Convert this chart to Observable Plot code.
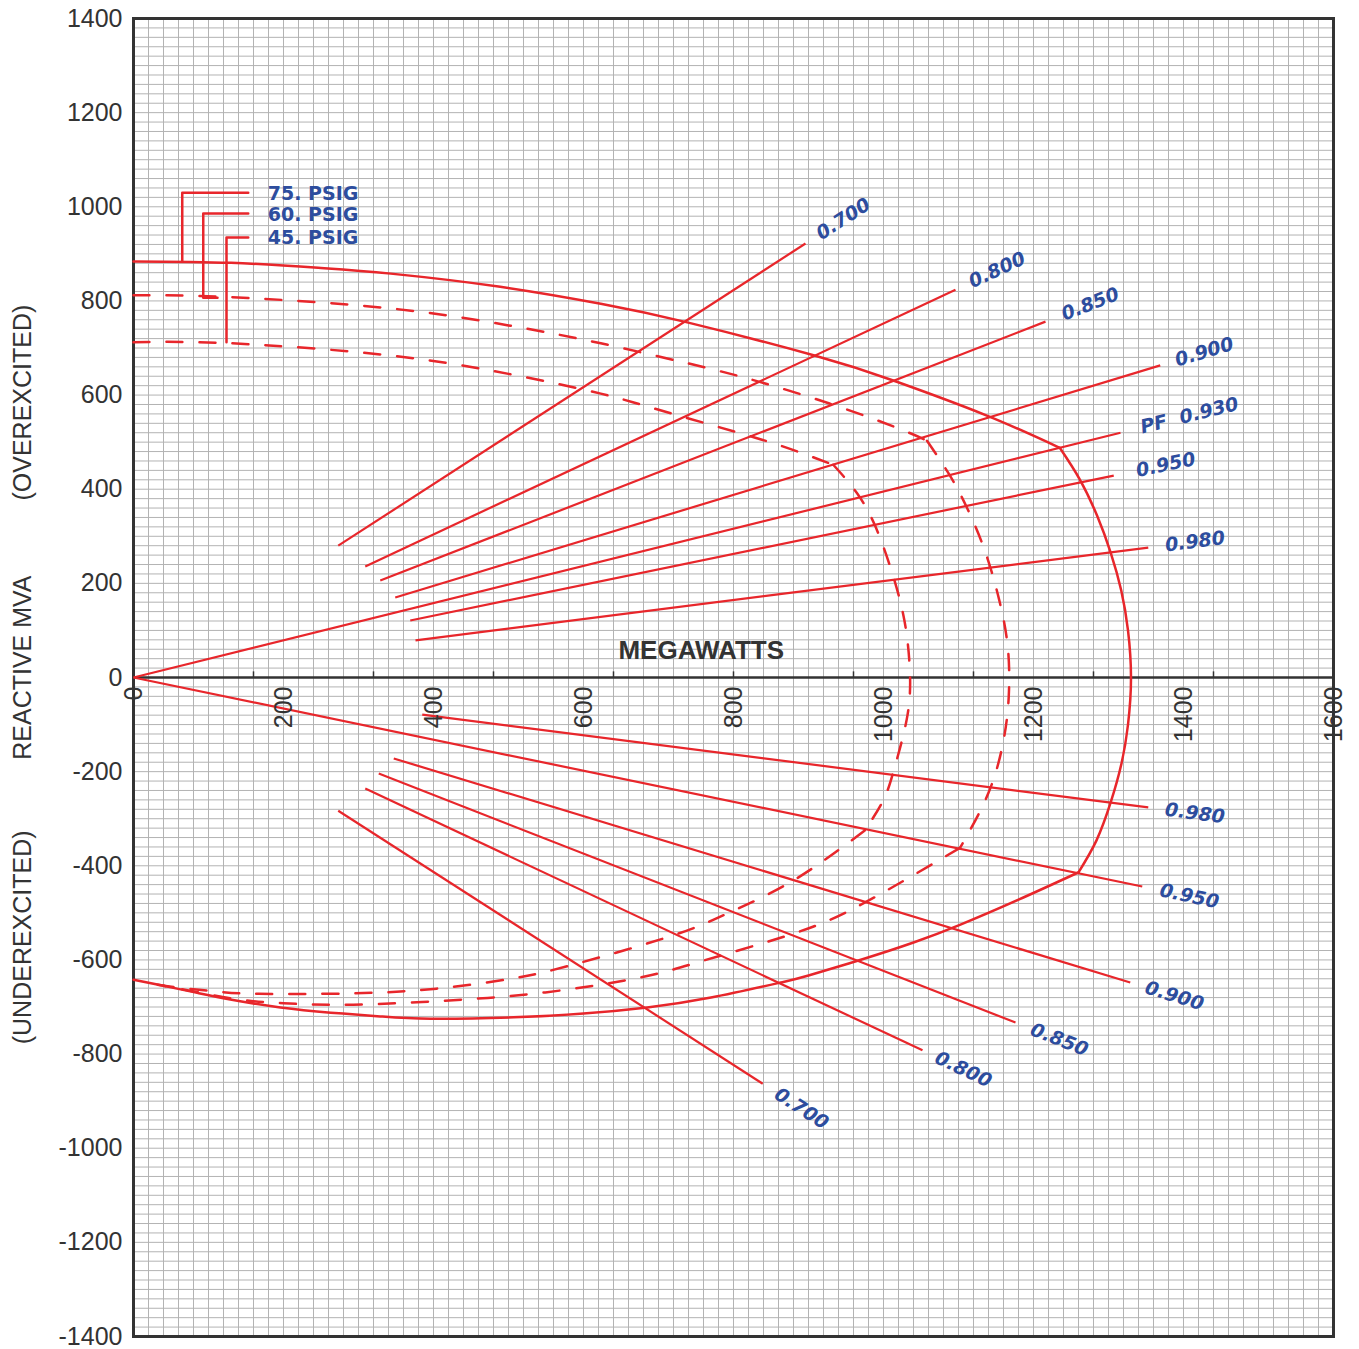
<!DOCTYPE html>
<html><head><meta charset="utf-8">
<script src="https://cdn.jsdelivr.net/npm/d3@7"></script>
<script src="https://cdn.jsdelivr.net/npm/@observablehq/plot@0.6"></script>
<style>html,body{margin:0;padding:0;background:#fff;} #chart svg{display:block}</style>
</head><body><div id="chart"></div>
<script>
// ---------- data ----------
const xTicks = [0, 200, 400, 600, 800, 1000, 1200, 1400, 1600];
const yTicks = [1400, 1200, 1000, 800, 600, 400, 200, 0, -200, -400, -600, -800, -1000, -1200, -1400];

// 75 PSIG capability curve (solid): [MW, MVAR]
const c75Upper = [[0,884],[130,881],[250,870],[343,858],[489,830],[623,794],[737,755],[908,684],[1013,631],[1137,557],[1235,488]];
const c75Arc   = [[1235,488],[1262,420],[1285,343],[1303,265],[1317,185],[1326,100],[1330,0],[1326,-100],[1317,-185],[1303,-265],[1284,-346],[1260,-414]];
const c75Lower = [[1260,-414],[1180,-472],[1101,-526],[1040,-563],[973,-598],[900,-633],[863,-648],[770,-680],[685,-701],[600,-714],[507,-722],[396,-725],[329,-720],[263,-712],[196,-701],[129,-684],[85,-670],[40,-655],[0,-642]];

// 60 PSIG (dashed, outer)
const c60Upper = [[0,812],[129,808],[343,784],[500,748],[623,710],[761,659],[837,627],[928,582],[1017,531],[1058,503]];
const c60Right = [[1058,503],[1087,433],[1110,365],[1135,270],[1155,160],[1166,60],[1167,-40],[1160,-134],[1140,-245],[1102,-362]];
const c60Lower = [[1102,-362],[973,-480],[880,-544],[761,-601],[676,-637],[549,-669],[421,-686],[293,-695],[200,-692],[140,-684],[90,-670],[40,-655]];

// 45 PSIG (dashed, inner)
const c45Upper = [[0,712],[130,710],[343,684],[500,645],[623,603],[717,561],[828,510],[889,478],[933,452]];
const c45Right = [[933,452],[965,391],[990,318],[1012,220],[1028,120],[1035,20],[1032,-80],[1015,-190],[1000,-260],[975,-325]];
const c45Lower = [[975,-325],[880,-431],[795,-499],[719,-548],[591,-608],[507,-639],[404,-661],[293,-671],[167,-672],[110,-667],[60,-659],[30,-652]];

// legend brackets
const bracket75 = [[65,884],[65,1030],[153,1030]];
const bracket60 = [[112,807],[93,807],[93,986],[153,986]];
const bracket45 = [[124,712],[124,935],[153,935]];
const legendNames = ["75. PSIG", "60. PSIG", "45. PSIG"];
const legendY = [1028, 982, 934];
const legendX = 179;

// power-factor lines: label, start [MW,MVAR], end [MW,MVAR]
const pfLabels = ["0.700","0.800","0.850","0.900","PF\u00a0\u00a00.930","0.950","0.980",
                  "0.700","0.800","0.850","0.900","0.950","0.980"];
const pfStart = [[273,280],[309,236],[329,206],[349,170],[0,0],[369,121],[376,79],
                 [273,-283],[309,-236],[327,-204],[347,-172],[0,0],[385,-79]];
const pfEnd   = [[896,922],[1096,824],[1216,756],[1369,663],[1316,520],[1307,429],[1353,276],
                 [839,-863],[1052,-792],[1176,-733],[1329,-648],[1345,-444],[1353,-276]];
const pfGap   = [15,16,18,16,21,23,17, 16,15,17,16,18,17];

const zeroTicks = [0,160,320,480,640,800,960,1120,1280,1440,1600];

const sideLabels = [
  {t: "(OVEREXCITED)", y: 584},
  {t: "REACTIVE MVA", y: 21},
  {t: "(UNDEREXCITED)", y: -552}
];
const axisTitle = {t: "MEGAWATTS", x: 757, y: 57};

// ---------- layout ----------
const W = 1359, H = 1349, ML = 133, MR = 26, MT = 18, MB = 13;
const kx = (W - ML - MR) / 1600, ky = (H - MT - MB) / 2800;
const red = "#e8262b", blue = "#2d4d9e", ink = "#333";
const minorX = d3.range(0, 1601, 20), minorY = d3.range(-1400, 1401, 20);

const lineOpts = {x: d => d[0], y: d => d[1], stroke: red, strokeWidth: 2.5, curve: "natural"};
const dashOpts = {...lineOpts, strokeDasharray: "16,17"};
const bracketOpts = {x: d => d[0], y: d => d[1], stroke: red, strokeWidth: 2.5, curve: "linear"};

const pfLines = pfLabels.map((t, i) => ({t, x1: pfStart[i][0], y1: pfStart[i][1], x2: pfEnd[i][0], y2: pfEnd[i][1], gap: pfGap[i]}));

const labelMarks = pfLines.map(l => {
  const dxp = (l.x2 - l.x1) * kx, dyp = -(l.y2 - l.y1) * ky;
  const a = Math.atan2(dyp, dxp);
  const P = l.x2 + l.gap * Math.cos(a) / kx;
  const Q = l.y2 - l.gap * Math.sin(a) / ky;
  return Plot.text([l], {x: () => P, y: () => Q, text: d => d.t, rotate: a * 180 / Math.PI,
    textAnchor: "start", lineAnchor: "middle", fill: blue, fontSize: 19, fontWeight: "bold",
    fontStyle: "italic", fontFamily: "DejaVu Sans, sans-serif"});
});

const chart = Plot.plot({
  width: W, height: H,
  marginLeft: ML, marginRight: MR, marginTop: MT, marginBottom: MB,
  x: {domain: [0, 1600], axis: null},
  y: {domain: [-1400, 1400], axis: null},
  style: {fontFamily: "'Liberation Sans', Arial, sans-serif", background: "white", overflow: "visible"},
  marks: [
    Plot.ruleX(minorX, {stroke: "#b3b3b3", strokeWidth: 1}),
    Plot.ruleY(minorY, {stroke: "#b3b3b3", strokeWidth: 1}),
    Plot.ruleY([0], {stroke: ink, strokeWidth: 2.5}),
    Plot.ruleX(zeroTicks, {y1: 0, y2: 12, stroke: ink, strokeWidth: 1.5}),
    Plot.frame({stroke: ink, strokeWidth: 3}),
    Plot.link(pfLines, {x1: "x1", y1: "y1", x2: "x2", y2: "y2", stroke: red, strokeWidth: 2.2}),
    Plot.line(c75Upper, lineOpts),
    Plot.line(c75Arc, lineOpts),
    Plot.line(c75Lower, lineOpts),
    Plot.line(c60Upper, dashOpts),
    Plot.line(c60Right, dashOpts),
    Plot.line(c60Lower, dashOpts),
    Plot.line(c45Upper, dashOpts),
    Plot.line(c45Right, dashOpts),
    Plot.line(c45Lower, dashOpts),
    Plot.line(bracket75, bracketOpts),
    Plot.line(bracket60, bracketOpts),
    Plot.line(bracket45, bracketOpts),
    Plot.text(legendNames, {x: () => legendX, y: (d, i) => legendY[i], text: d => d,
      textAnchor: "start", lineAnchor: "middle", fill: blue, fontSize: 19, fontWeight: "bold",
      fontFamily: "DejaVu Sans, sans-serif"}),
    ...labelMarks,
    // axis tick labels
    Plot.text(yTicks, {y: d => d, text: d => String(d), frameAnchor: "left", dx: -11,
      textAnchor: "end", lineAnchor: "middle", fontSize: 25, fill: ink}),
    Plot.text(xTicks, {x: d => d, y: () => 0, text: d => String(d), rotate: -90, dy: 9,
      textAnchor: "end", lineAnchor: "middle", fontSize: 25, fill: ink}),
    Plot.text(sideLabels, {y: d => d.y, text: d => d.t, frameAnchor: "left", dx: -111, rotate: -90,
      textAnchor: "middle", lineAnchor: "middle", fontSize: 25, fill: ink}),
    Plot.text([axisTitle], {x: d => d.x, y: d => d.y, text: d => d.t, textAnchor: "middle",
      lineAnchor: "middle", fontSize: 26, fontWeight: "bold", fill: ink})
  ]
});
document.getElementById("chart").appendChild(chart);
</script>
</body></html>
